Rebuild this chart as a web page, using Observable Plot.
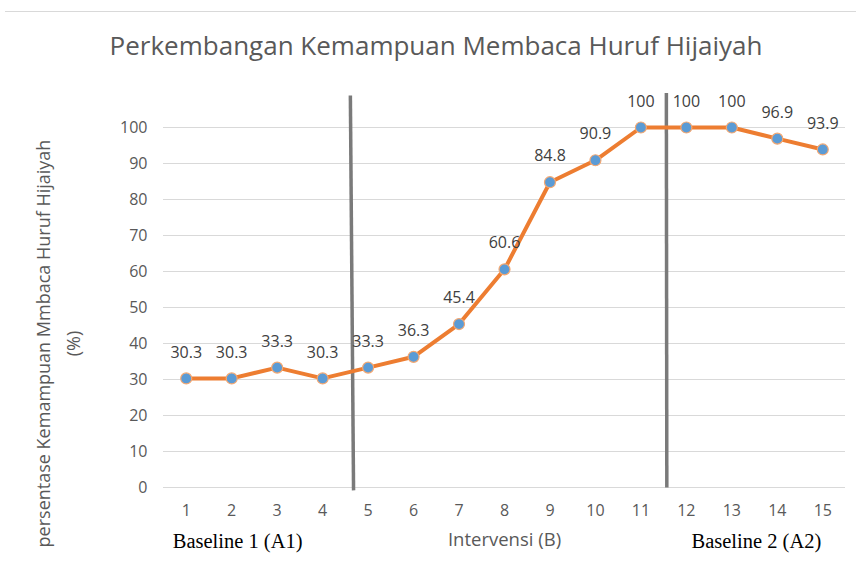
<!DOCTYPE html>
<html>
<head>
<meta charset="utf-8">
<script src="https://cdn.jsdelivr.net/npm/d3@7"></script>
<script src="https://cdn.jsdelivr.net/npm/@observablehq/plot@0.6"></script>
<style>
  html, body { margin: 0; padding: 0; background: #fff; }
  #wrap { width: 856px; height: 577px; position: relative; overflow: hidden; }
  #topline { position: absolute; left: 5px; right: 0; top: 11px; height: 0; border-top: 1px solid #d9d9d9; }
  #title { position: absolute; left: 0; top: 16px; width: 872px; height: 58px; line-height: 58px; text-align: center;
           font-family: "Open Sans", sans-serif; font-size: 26px; color: #595959; }
  #chart { position: absolute; left: 0; top: 70px; }
</style>
</head>
<body>
<div id="wrap">
  <div id="topline"></div>
  <div id="title">Perkembangan Kemampuan Membaca Huruf Hijaiyah</div>
  <div id="chart"></div>
</div>
<script>
const sessions = [1, 2, 3, 4, 5, 6, 7, 8, 9, 10, 11, 12, 13, 14, 15];
const scores = [30.3, 30.3, 33.3, 30.3, 33.3, 36.3, 45.4, 60.6, 84.8, 90.9, 100, 100, 100, 96.9, 93.9];
const yTicks = [0, 10, 20, 30, 40, 50, 60, 70, 80, 90, 100];
const phaseLines = [
  {x1: 4.61, y1: 108.9, x2: 4.68, y2: -0.8},
  {x1: 11.56, y1: 109.6, x2: 11.57, y2: 0}
];
const phaseLabels = [
  {x: 2.13, label: "Baseline 1 (A1)"},
  {x: 13.54, label: "Baseline 2 (A2)"}
];
const xLabel = "Intervensi (B)";
const yLabel = "persentase Kemampuan Mmbaca Huruf Hijaiyah\n(%)";

const data = sessions.map((s, i) => ({session: s, score: scores[i]}));

const chart = Plot.plot({
  width: 856,
  height: 507,
  marginLeft: 163,
  marginRight: 11,
  marginTop: 57,
  marginBottom: 90,
  style: {fontFamily: "Open Sans, sans-serif", fontSize: "16px", color: "#595959", background: "transparent"},
  x: {domain: [0.5, 15.5], ticks: sessions, tickFormat: d => String(d), tickSize: 0, tickPadding: 17, label: null},
  y: {domain: [0, 100], ticks: yTicks, tickSize: 0, tickPadding: 16, label: null},
  marks: [
    Plot.ruleY(yTicks, {stroke: "#d9d9d9", strokeWidth: 1}),
    Plot.link(phaseLines, {x1: "x1", y1: "y1", x2: "x2", y2: "y2", stroke: "#7a7a7a", strokeWidth: 3.5}),
    Plot.line(data, {x: "session", y: "score", stroke: "#ED7D31", strokeWidth: 4, curve: "linear"}),
    Plot.dot(data, {x: "session", y: "score", r: 5.5, fill: "#5B9BD5", stroke: "#F4A872", strokeWidth: 1.2}),
    Plot.text(data, {x: "session", y: "score", text: d => String(d.score), dy: -26, fill: "#404040", fontSize: 16}),
    Plot.text(phaseLabels, {x: "x", text: "label", frameAnchor: "bottom", dy: 60, fill: "#000",
      fontFamily: "Liberation Serif, serif", fontSize: 20.5}),
    Plot.text([xLabel], {text: d => d, frameAnchor: "bottom", dy: 58, fill: "#595959", fontSize: 18.5}),
    Plot.text([yLabel], {text: d => d, frameAnchor: "left", textAnchor: "middle", rotate: -90, dx: -108, dy: 36,
      fill: "#595959", fontSize: 18, lineHeight: 1.65})
  ]
});
document.getElementById("chart").appendChild(chart);
</script>
</body>
</html>
